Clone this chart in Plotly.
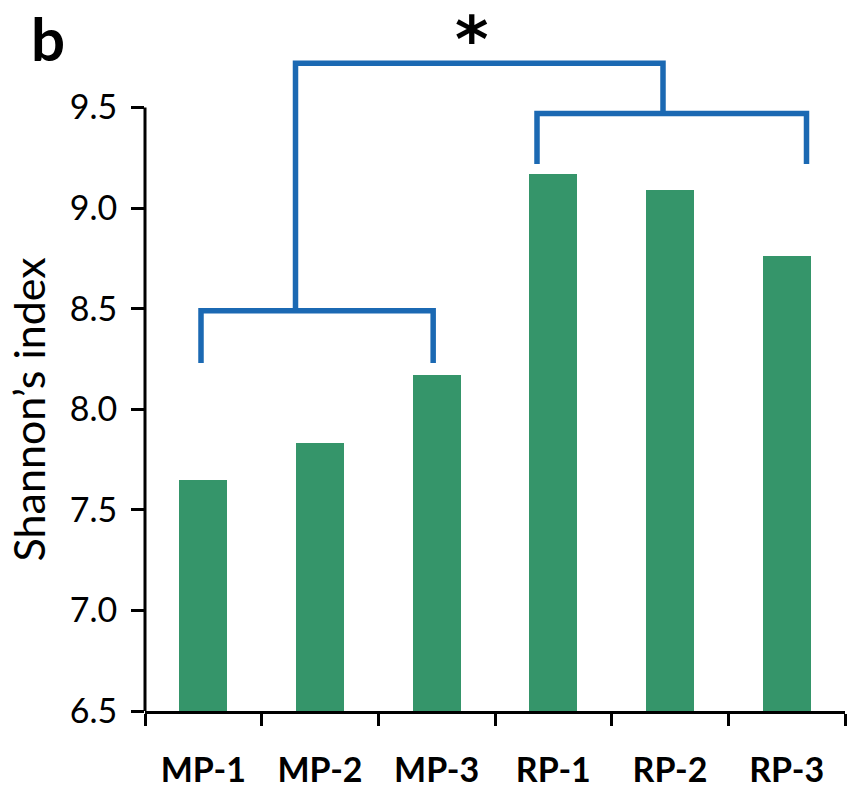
import plotly.graph_objects as go

categories = ["MP-1", "MP-2", "MP-3", "RP-1", "RP-2", "RP-3"]
shannon = [7.65, 7.83, 8.17, 9.17, 9.09, 8.76]
y_ticks = [6.5, 7.0, 7.5, 8.0, 8.5, 9.0, 9.5]
y_tick_labels = ["6.5", "7.0", "7.5", "8.0", "8.5", "9.0", "9.5"]

# significance bracket geometry (data units: category index / Shannon value)
mp_bracket_x = [-0.02, -0.02, 1.97, 1.97]
mp_bracket_y = [8.23, 8.49, 8.49, 8.23]
rp_bracket_x = [2.86, 2.86, 5.17, 5.17]
rp_bracket_y = [9.22, 9.47, 9.47, 9.22]
top_bracket_x = [0.79, 0.79, 3.94, 3.94]
top_bracket_y = [8.49, 9.72, 9.72, 9.47]

GREEN = "#35956a"
BLUE = "#1b69b3"
FONT = "Lato"

cat_pos = list(range(len(categories)))
boundaries = [i - 0.5 for i in range(len(categories) + 1)]

fig = go.Figure()
fig.add_trace(go.Bar(x=cat_pos, y=[v - 6.5 for v in shannon], base=6.5,
                     marker=dict(color=GREEN, line=dict(width=0)), width=0.41,
                     showlegend=False, hoverinfo="skip"))

for bx, by in [(mp_bracket_x, mp_bracket_y), (rp_bracket_x, rp_bracket_y), (top_bracket_x, top_bracket_y)]:
    fig.add_trace(go.Scatter(x=bx, y=by, mode="lines",
                             line=dict(color=BLUE, width=5.5),
                             showlegend=False, hoverinfo="skip", cliponaxis=False))

# y axis line only spanning 6.5-9.5
fig.add_shape(type="line", xref="paper", yref="y", x0=0, x1=0, y0=6.5, y1=9.5,
              line=dict(color="black", width=3))

fig.add_annotation(x=2.30, y=9.838, xref="x", yref="y", text="<b>*</b>", showarrow=False,
                   xanchor="center", yanchor="middle", borderpad=0,
                   font=dict(family="DejaVu Sans", size=64, color="black"))
fig.add_annotation(x=-0.167, y=8.0, xref="paper", yref="y", text="Shannon’s index",
                   textangle=-90, showarrow=False, xanchor="center", yanchor="middle",
                   borderpad=0,
                   font=dict(family=FONT, size=43, color="black"))
fig.add_annotation(x=-0.139, y=0.956, xref="paper", yref="paper", text="<b>b</b>",
                   showarrow=False, xanchor="center", yanchor="middle", borderpad=0,
                   font=dict(family=FONT, size=60, color="black"))

fig.update_layout(
    width=848, height=794,
    margin=dict(l=145, r=3, t=7, b=83),
    plot_bgcolor="white", paper_bgcolor="white",
    bargap=0,
    xaxis=dict(range=[-0.5, 5.5], tickmode="array", tickvals=cat_pos,
               ticktext=[f"<b>{c}</b>" for c in categories],
               ticks="", ticklabelstandoff=27,
               minor=dict(tickmode="array", tickvals=boundaries, ticks="outside",
                          ticklen=12, tickwidth=3, tickcolor="black", showgrid=False),
               showline=True, linecolor="black", linewidth=3, showgrid=False, zeroline=False,
               tickfont=dict(family=FONT, size=34, color="black")),
    yaxis=dict(range=[6.5, 10.0], tickmode="array", tickvals=y_ticks, ticktext=y_tick_labels,
               ticks="outside", ticklen=13, tickwidth=3, tickcolor="black",
               ticklabelstandoff=7,
               showline=False, showgrid=False, zeroline=False,
               tickfont=dict(family=FONT, size=34, color="black")),
)

fig.write_html("out.html", config={"displayModeBar": False},
               post_script="document.body.style.margin='0px';")
